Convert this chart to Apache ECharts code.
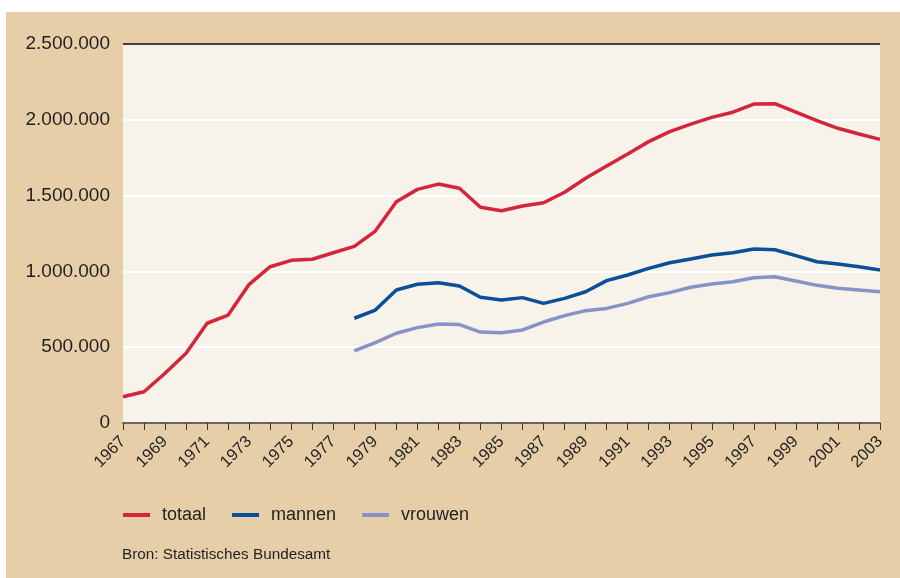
<!DOCTYPE html>
<html>
<head>
<meta charset="utf-8">
<script src="https://cdn.jsdelivr.net/npm/echarts@6/dist/echarts.min.js"></script>
<style>
  html, body { margin: 0; padding: 0; background: #fff; }
  #chart { position: absolute; left: 6px; top: 12px; width: 894px; height: 566px; background: #e5cea8; }
</style>
</head>
<body>
<div id="chart"></div>
<script>
// jaren 1967 - 2003
const years = [];
for (let y = 1967; y <= 2003; y++) years.push(String(y));

// totaal vanaf 1967
const totaal = [
  173000, 206000, 328000, 460000, 658000, 712000, 915000, 1031000, 1073000, 1080000,
  1123000, 1165000, 1266000, 1460000, 1541000, 1576000, 1548000, 1423000, 1400000, 1431000,
  1453000, 1522000, 1614000, 1695000, 1775000, 1856000, 1922000, 1972000, 2016000, 2050000,
  2104000, 2106000, 2050000, 1994000, 1944000, 1906000, 1871000
];
// mannen / vrouwen pas vanaf 1978
const mannen = [
  null, null, null, null, null, null, null, null, null, null, null,
  691000, 745000, 877000, 915000, 925000, 904000, 829000, 811000, 827000,
  789000, 822000, 866000, 939000, 976000, 1020000, 1057000, 1082000, 1108000, 1123000,
  1148000, 1143000, 1104000, 1064000, 1049000, 1031000, 1009000
];
const vrouwen = [
  null, null, null, null, null, null, null, null, null, null, null,
  475000, 530000, 592000, 629000, 653000, 649000, 600000, 596000, 614000,
  666000, 708000, 741000, 756000, 789000, 833000, 860000, 895000, 917000, 932000,
  958000, 965000, 937000, 908000, 889000, 877000, 866000
];

const seriesNames = ["totaal", "mannen", "vrouwen"];
const seriesColors = ["#d3263a", "#0b4f97", "#8793c8"];
const seriesData = [totaal, mannen, vrouwen];

const fontFam = "'Liberation Sans', Arial, sans-serif";

const chart = echarts.init(document.getElementById("chart"));
chart.setOption({
  animation: false,
  textStyle: { fontFamily: fontFam },
  grid: {
    left: 117, right: 20, top: 32, bottom: 155,
    show: true, backgroundColor: "#f7f2ea", borderWidth: 0
  },
  legend: {
    left: 117, top: 494, padding: 0,
    itemWidth: 27, itemHeight: 4, itemGap: 26,
    icon: "rect",
    data: seriesNames,
    textStyle: { fontSize: 18, color: "#231f20", padding: [0, 0, 0, 7] }
  },
  graphic: [{
    type: "text", left: 116, top: 535,
    style: { text: "Bron: Statistisches Bundesamt", fontSize: 15.3, fill: "#231f20", fontFamily: fontFam }
  }],
  xAxis: {
    type: "category",
    data: years,
    boundaryGap: false,
    axisLine: { lineStyle: { color: "#3a3330", width: 1.5 } },
    axisTick: { interval: 0, length: 7, lineStyle: { color: "#3a3330" } },
    axisLabel: { interval: 1, rotate: 45, fontSize: 16.5, color: "#231f20", margin: 16 },
    splitLine: { show: false }
  },
  yAxis: {
    type: "value",
    min: 0, max: 2500000, interval: 500000,
    axisLine: { show: false },
    axisTick: { show: false },
    axisLabel: {
      fontSize: 19, color: "#231f20", margin: 13,
      formatter: v => String(v).replace(/\B(?=(\d{3})+(?!\d))/g, ".")
    },
    splitLine: {
      lineStyle: { color: ["#fff", "#fff", "#fff", "#fff", "#fff", "#4a4038"], width: 2 }
    }
  },
  series: seriesNames.map((name, i) => ({
    name: name,
    type: "line",
    data: seriesData[i],
    color: seriesColors[i],
    symbol: "none",
    lineStyle: { width: 3.5, color: seriesColors[i] }
  }))
});
</script>
</body>
</html>
